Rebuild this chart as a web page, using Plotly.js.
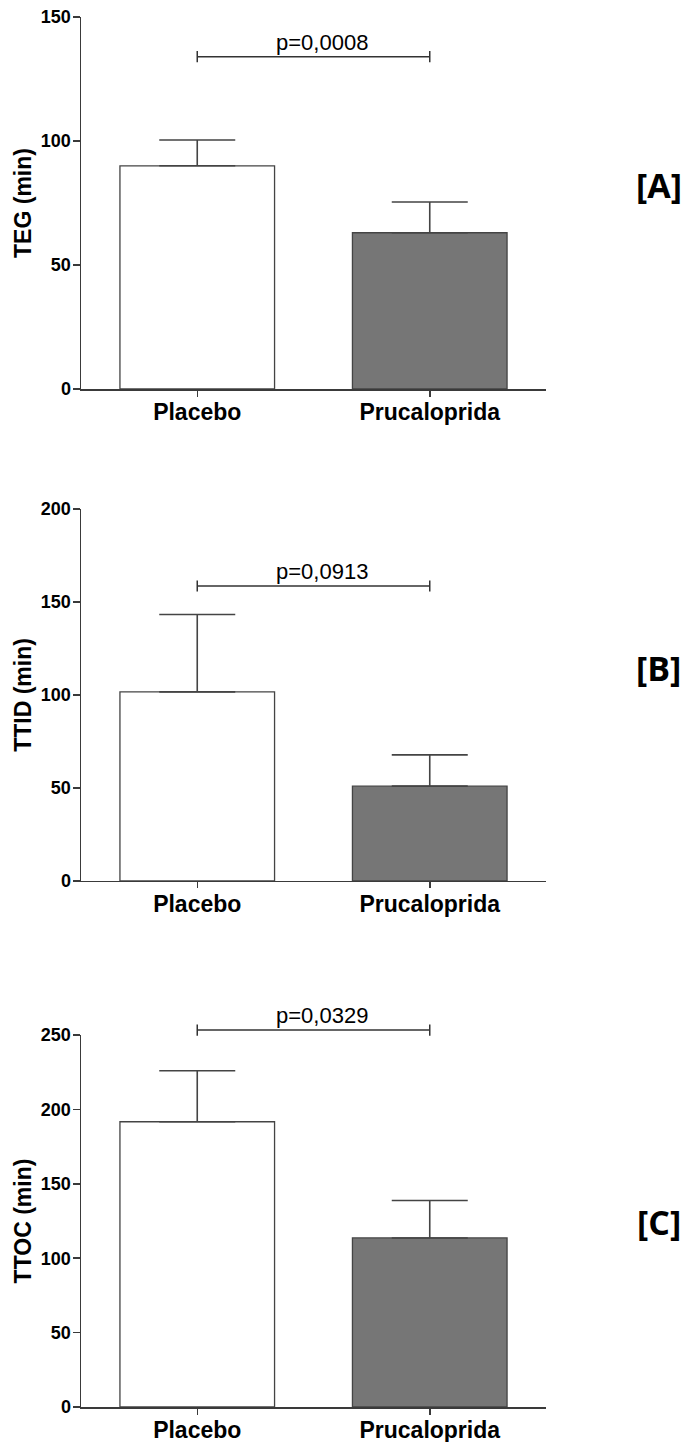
<!DOCTYPE html>
<html>
<head>
<meta charset="utf-8">
<script src="https://cdn.plot.ly/plotly-3.0.1.min.js"></script>
<style>html,body{margin:0;padding:0;background:#fff;}#chart{width:687px;height:1442px;}</style>
</head>
<body>
<div id="chart"></div>
<script>
// ---- data ----
var categories = ['Placebo', 'Prucaloprida'];
var tegMean = [90, 63];
var tegErr = [10.4, 12.4];
var ttidMean = [101.7, 51];
var ttidErr = [41.6, 16.8];
var ttocMean = [191.7, 113.6];
var ttocErr = [34.3, 25.2];
var yTitles = ['TEG (min)', 'TTID (min)', 'TTOC (min)'];
var yMax = [150, 200, 250];
var bracketY = [134, 158.6, 253.3];
var pLabels = ['p=0,0008', 'p=0,0913', 'p=0,0329'];
var panelLabels = ['[A]', '[B]', '[C]'];

var means = [tegMean, ttidMean, ttocMean];
var errs = [tegErr, ttidErr, ttocErr];

var axisColor = '#3a3a3a';
var fontFam = 'Liberation Sans, Arial, sans-serif';
var domains = [[0.73237, 1.0], [0.37842, 0.64604], [0.0, 0.26763]];
var labelY = [0.8791, 0.5317, 0.1331];

var traces = [];
var layout = {
  width: 687, height: 1442,
  margin: {l: 81, r: 141, t: 17, b: 35},
  paper_bgcolor: '#fff', plot_bgcolor: 'rgba(0,0,0,0)',
  showlegend: false,
  font: {family: fontFam, color: '#000'},
  annotations: [],
  bargap: 0
};

for (var i = 0; i < 3; i++) {
  var xa = i === 0 ? 'x' : 'x' + (i + 1);
  var ya = i === 0 ? 'y' : 'y' + (i + 1);
  var yaAux = 'y' + (i + 4);
  var d0 = domains[i][0], d1 = domains[i][1];
  // auxiliary (invisible) axis with the same scale but a taller domain, so the
  // significance bracket can sit above the visible axis range
  var f = Math.min(1.1, (1 - d0) / (d1 - d0));
  traces.push({
    type: 'bar', x: categories, y: means[i], xaxis: xa, yaxis: ya,
    width: 0.665,
    marker: {color: ['#ffffff', '#767676'], line: {color: '#444', width: 1.3}},
    error_y: {type: 'data', symmetric: false, array: errs[i], arrayminus: [0, 0],
              color: '#444', thickness: 1.6, width: 38},
    cliponaxis: false, hoverinfo: 'none'
  });
  traces.push({
    type: 'scatter', mode: 'lines+markers', x: categories, y: [bracketY[i], bracketY[i]],
    xaxis: xa, yaxis: yaAux, cliponaxis: false,
    line: {color: '#333', width: 1.5},
    marker: {symbol: 'line-ns', size: 8, line: {color: '#333', width: 1.5}},
    hoverinfo: 'none'
  });
  var xKey = i === 0 ? 'xaxis' : 'xaxis' + (i + 1);
  var yKey = i === 0 ? 'yaxis' : 'yaxis' + (i + 1);
  layout[xKey] = {
    anchor: ya, domain: [0, 1], range: [-0.5, 1.5], type: 'category',
    showline: true, linecolor: axisColor, linewidth: 1.5,
    ticks: 'outside', ticklen: 6, tickwidth: 1.5, tickcolor: axisColor,
    ticklabelstandoff: -4,
    tickfont: {family: fontFam, size: 23, color: '#000', weight: 'bold'},
    showgrid: false, zeroline: false, fixedrange: true
  };
  layout[yKey] = {
    anchor: xa, domain: domains[i], range: [0, yMax[i]], dtick: 50,
    showline: true, linecolor: axisColor, linewidth: 1.5,
    ticks: 'outside', ticklen: 7, tickwidth: 1.5, tickcolor: axisColor,
    ticklabelstandoff: -2,
    tickfont: {family: fontFam, size: 18, color: '#000', weight: 'bold'},
    showgrid: false, zeroline: false, fixedrange: true,
    title: {text: yTitles[i], font: {family: fontFam, size: 23, color: '#000', weight: 'bold'}, standoff: 3}
  };
  layout['yaxis' + (i + 4)] = {
    anchor: xa, domain: [d0, d0 + (d1 - d0) * f], range: [0, yMax[i] * f],
    visible: false, showgrid: false, zeroline: false, fixedrange: true
  };
  layout.annotations.push({
    xref: xa, yref: yaAux, x: 0.5, y: bracketY[i], yanchor: 'bottom', xanchor: 'center',
    xshift: 8, yshift: 0, showarrow: false, text: pLabels[i],
    font: {family: fontFam, size: 22, color: '#000'}
  });
  layout.annotations.push({
    xref: 'paper', yref: 'paper', x: 1.243, y: labelY[i], xanchor: 'center', yanchor: 'middle',
    showarrow: false, text: '<b>' + panelLabels[i] + '</b>',
    font: {family: 'Open Sans, Noto Sans, sans-serif', size: 34, color: '#000'}
  });
}

Plotly.newPlot('chart', traces, layout, {displayModeBar: false, staticPlot: true});
</script>
</body>
</html>
